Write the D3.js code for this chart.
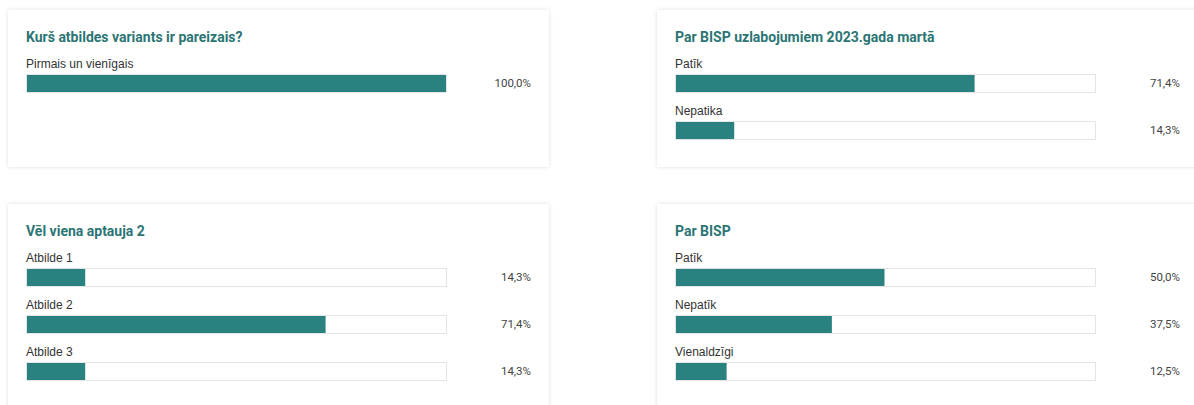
<!DOCTYPE html>
<html><head><meta charset="utf-8">
<script src="https://cdn.jsdelivr.net/npm/d3@7"></script>
<style>
html,body{margin:0;padding:0;background:#fff;overflow:hidden}
svg{display:block}
</style></head>
<body>
<svg id="c" width="1194" height="405"></svg>
<script>
const titles = ["Kurš atbildes variants ir pareizais?", "Par BISP uzlabojumiem 2023.gada martā", "Vēl viena aptauja 2", "Par BISP"];
const cats1 = ["Pirmais un vienīgais"];
const vals1 = [100.0];
const cats2 = ["Patīk", "Nepatika"];
const vals2 = [71.4, 14.3];
const cats3 = ["Atbilde 1", "Atbilde 2", "Atbilde 3"];
const vals3 = [14.3, 71.4, 14.3];
const cats4 = ["Patīk", "Nepatīk", "Vienaldzīgi"];
const vals4 = [50.0, 37.5, 12.5];

const cards = [
  {x: 8, y: 10, w: 541, h: 157, title: titles[0], cats: cats1, vals: vals1},
  {x: 657, y: 10, w: 560, h: 157, title: titles[1], cats: cats2, vals: vals2},
  {x: 8, y: 204, w: 541, h: 230, title: titles[2], cats: cats3, vals: vals3},
  {x: 657, y: 204, w: 560, h: 230, title: titles[3], cats: cats4, vals: vals4}
];

const svg = d3.select("#c");
const defs = svg.append("defs");
const f = defs.append("filter").attr("id","sh").attr("x","-5%").attr("y","-10%").attr("width","110%").attr("height","120%");
f.append("feDropShadow").attr("dx",0).attr("dy",0).attr("stdDeviation",2).attr("flood-color","#000").attr("flood-opacity",0.12);

const x = d3.scaleLinear().domain([0,100]).range([0,421]);
const fmt = v => d3.format(".1f")(v).replace(".", ",") + "%";

cards.forEach(c => {
  const g = svg.append("g").attr("transform", `translate(${c.x},${c.y})`);
  g.append("rect").attr("width", c.w).attr("height", c.h).attr("fill","#fff").attr("filter","url(#sh)");
  g.append("text").attr("x",18).attr("y",32).text(c.title)
    .attr("font-family","Roboto, sans-serif").attr("font-weight","bold").attr("font-size",14).attr("fill","#2b7574");
  const y = d3.scaleBand().domain(c.cats).range([0, 47*c.cats.length]).paddingInner(0).paddingOuter(0);
  const rows = g.selectAll("g.row").data(c.cats.map((k,i)=>({k, v:c.vals[i]}))).join("g")
    .attr("class","row").attr("transform", d => `translate(18,${64 + y(d.k)})`);
  rows.append("text").attr("x",0).attr("y",-6).text(d=>d.k)
    .attr("font-family","'Liberation Sans', Arial, sans-serif").attr("font-size",12).attr("fill","#333");
  rows.append("rect").attr("x",0.5).attr("y",0.5).attr("width",x(100)-1).attr("height",18)
    .attr("fill","#fff").attr("stroke","#e4e4e4").attr("stroke-width",1);
  rows.append("rect").attr("x",1).attr("y",1).attr("width",d=>Math.max(0,x(d.v)-2)).attr("height",17)
    .attr("fill","#2a8280");
  rows.append("text").attr("x",505).attr("y",13).attr("text-anchor","end").text(d=>fmt(d.v))
    .attr("font-family","Roboto, sans-serif").attr("font-size",11.5).attr("fill","#444");
});
</script>
</body></html>
